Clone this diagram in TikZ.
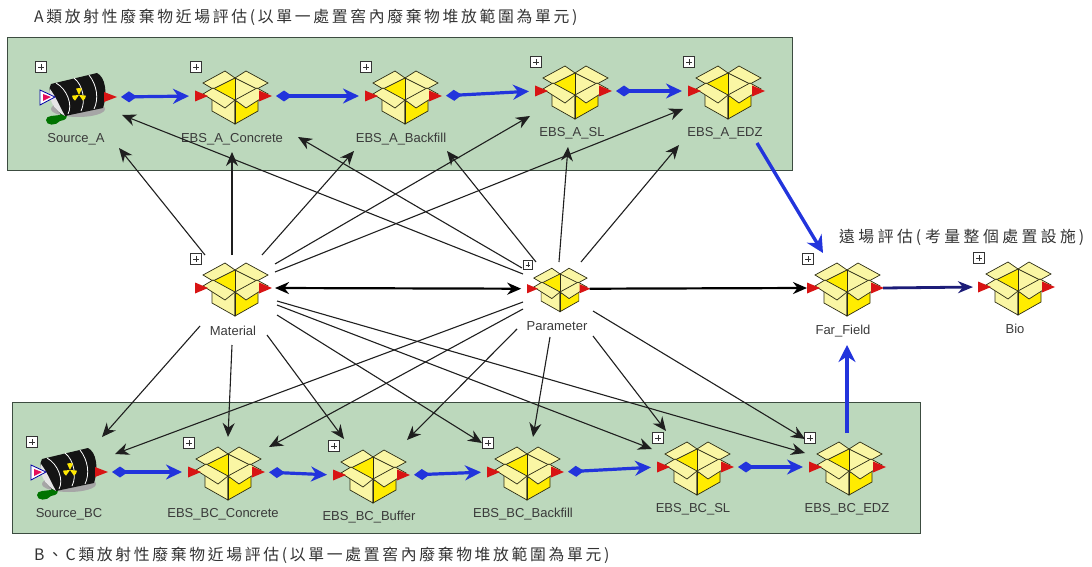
\documentclass[tikz,border=0pt]{standalone}
\usepackage{fontspec}
\usetikzlibrary{arrows.meta}
\setmainfont{Liberation Sans}
\newfontfamily\cjkfont[LetterSpace=17]{Noto Sans CJK TC}
\newfontfamily\cjkwidefont[LetterSpace=22]{Noto Sans CJK TC}
\definecolor{panelgreen}{HTML}{BCD8BC}
\definecolor{paneledge}{HTML}{3C4C40}
\definecolor{cartonpale}{HTML}{FAF6A4}
\definecolor{cartonyellow}{HTML}{FFEC00}
\definecolor{cartonline}{HTML}{2C2C14}
\definecolor{portred}{HTML}{D81414}
\definecolor{flowblue}{HTML}{2234DC}
\definecolor{navyflow}{HTML}{1C1C78}
\definecolor{labelgrey}{HTML}{3A3A3A}
\tikzset{
  panel/.style={draw=paneledge,line width=1pt,fill=panelgreen},
  namelabel/.style={font=\fontsize{13}{15}\selectfont,text=labelgrey,inner sep=0pt,anchor=center},
  headline/.style={font=\cjkfont\fontsize{15.8}{18}\selectfont,text=black!80,inner sep=0pt,anchor=west},
  wideheadline/.style={headline,font=\cjkwidefont\fontsize{15.8}{18}\selectfont},
  link/.style={draw=black!88,line width=1.1pt,-{Stealth[length=14pt,width=12pt]}},
  flow/.style={draw=flowblue,line width=3.2pt,{Diamond[length=16pt,width=11pt]}-{Stealth[length=16pt,width=15pt]},shorten <=5pt,shorten >=6pt},
  bluelink/.style={draw=flowblue,line width=3.4pt,-{Stealth[length=17pt,width=17pt]}},
  boldlink/.style={draw=black,line width=2.2pt,-{Stealth[length=14pt,width=12pt]}},
  expander/.style={draw=black!80,fill=white,line width=.7pt},
  cartonicon/.pic={
    % carton body, left and right walls
    \filldraw[cartonline,fill=cartonpale,line width=.7pt] (0,0) -- (-23,-3) -- (-23,11) -- (0,24) -- cycle;
    \filldraw[cartonline,fill=cartonyellow,line width=.7pt] (0,2) -- (23,-3) -- (23,11) -- (0,24) -- cycle;
    % opening of the carton
    \fill[cartonyellow] (-22,-11) -- (0,-22) -- (0,0) -- cycle;
    \fill[cartonpale] (22,-11) -- (0,-22) -- (0,0) -- cycle;
    % rear flaps
    \filldraw[cartonline,fill=cartonpale,line width=.7pt] (-10,-29) -- (-32,-17) -- (-22,-11) -- (0,-22) -- cycle;
    \filldraw[cartonline,fill=cartonpale,line width=.7pt] (11,-29) -- (33,-17) -- (22,-11) -- (0,-22) -- cycle;
    \draw[cartonline,line width=.7pt] (0,-22) -- (0,24);
    % front flaps
    \filldraw[cartonline,fill=cartonpale,line width=.7pt] (0,0) -- (-22,-12) -- (-32,-6) -- (-10,8) -- cycle;
    \filldraw[cartonline,fill=cartonpale,line width=.7pt] (0,0) -- (22,-12) -- (33,-6) -- (11,8) -- cycle;
    % input and output ports
    \fill[portred] (-40,-9.5) -- (-27,-4) -- (-40,1.5) -- cycle;
    \fill[portred] (24,-9.5) -- (37,-4) -- (24,1.5) -- cycle;
    % expander mark
    \filldraw[expander] (-44.5,-38.5) rectangle (-33.5,-27.5);
    \draw[black!80,line width=.6pt] (-42,-33) -- (-36,-33) (-39,-36) -- (-39,-30);
    \coordinate (-in) at (-40,-4);
    \coordinate (-out) at (36,-4);
  },
  barrelicon/.pic={
    % ground shadow and spilled liquid
    \fill[black!35] (-2,12) ellipse [x radius=27,y radius=8];
    \fill[green!45!black] (-34,23) .. controls (-34,18) and (-25,19) .. (-20,18) .. controls (-18,12) and (-14,12) .. (-13,18)
      .. controls (-13,24) and (-18,23) .. (-20,24) .. controls (-24,29) and (-34,29) .. cycle;
    % barrel shell
    \fill[black!92] (-29,-13) -- (17,-24) .. controls (25,-20) and (28,-5) .. (23,11) -- (-15,19)
      .. controls (-26,16) and (-34,-5) .. cycle;
    \fill[black!10] (-30,-8) .. controls (-33,0) and (-26,14) .. (-15,19) .. controls (-20,10) and (-24,0) .. cycle;
    \draw[white,line width=.8pt] (-24,-14) .. controls (-13,-8) and (-7,8) .. (-12,17);
    \draw[white,line width=.8pt] (-6,-19) .. controls (3,-12) and (6,4) .. (1,14);
    \draw[white,line width=.8pt] (9,-22) .. controls (17,-12) and (19,2) .. (14,12);
    % radiation mark
    \foreach \a in {30,150,270}{
      \fill[yellow!90!orange] (-1,-2) -- ++(\a-25:7) arc[start angle=\a-25,end angle=\a+25,radius=7] -- cycle;
    }
    % ports
    \fill[white] (-40,-7) -- (-25,0) -- (-40,8) -- cycle;
    \draw[blue!65!black,line width=.8pt] (-40,-7) -- (-25,0) -- (-40,8) -- cycle;
    \fill[portred!70!magenta] (-37,-3) -- (-29,0) -- (-37,4) -- cycle;
    \fill[portred] (24,-5) -- (37,0) -- (24,5) -- cycle;
    % expander mark
    \filldraw[expander] (-44.5,-35.5) rectangle (-33.5,-24.5);
    \draw[black!80,line width=.6pt] (-42,-30) -- (-36,-30) (-39,-33) -- (-39,-27);
    \coordinate (-out) at (36,0);
  }
}
\begin{document}
\begin{tikzpicture}[x=1pt,y=-1pt]
\useasboundingbox (0,0) rectangle (1092,567);

% grouping panels and headings
\path[panel] (7,38) rectangle (792,170);
\path[panel] (12,402) rectangle (920,533);
\node[headline] (headA) at (34,17) {A類放射性廢棄物近場評估(以單一處置窖內廢棄物堆放範圍為單元)};
\node[headline] (headBC) at (34,555) {B、C類放射性廢棄物近場評估(以單一處置窖內廢棄物堆放範圍為單元)};
\node[wideheadline] (headFar) at (839,237) {遠場評估\kern3pt(\kern4pt考量整個處置設施\kern3pt)};

% near field, class A
\pic (Source_A) at (80,97) {barrelicon};
\pic (EBS_A_Concrete) at (235,100) {cartonicon};
\pic (EBS_A_Backfill) at (405,100) {cartonicon};
\pic (EBS_A_SL) at (575,95) {cartonicon};
\pic (EBS_A_EDZ) at (728,95) {cartonicon};
\node[namelabel] (lblSourceA) at (76,139) {Source\_A};
\node[namelabel] (lblAConcrete) at (232,139) {EBS\_A\_Concrete};
\node[namelabel] (lblABackfill) at (401,139) {EBS\_A\_Backfill};
\node[namelabel] (lblASL) at (572,133) {EBS\_A\_SL};
\node[namelabel] (lblAEDZ) at (725,133) {EBS\_A\_EDZ};

% shared inputs, far field and biosphere
\pic (Material) at (235,292) {cartonicon};
\pic[scale=.82] (Parameter) at (560,292) {cartonicon};
\pic (Far_Field) at (847,292) {cartonicon};
\pic (Bio) at (1018,291) {cartonicon};
\node[namelabel] (lblMaterial) at (233,331) {Material};
\node[namelabel] (lblParameter) at (557,326) {Parameter};
\node[namelabel] (lblFar) at (843,331) {Far\_Field};
\node[namelabel] (lblBio) at (1015,329) {Bio};

% near field, classes B and C
\pic (Source_BC) at (71,472) {barrelicon};
\pic (EBS_BC_Concrete) at (228,476) {cartonicon};
\pic (EBS_BC_Buffer) at (373,479) {cartonicon};
\pic (EBS_BC_Backfill) at (527,476) {cartonicon};
\pic (EBS_BC_SL) at (697,471) {cartonicon};
\pic (EBS_BC_EDZ) at (849,471) {cartonicon};
\node[namelabel] (lblSourceBC) at (69,514) {Source\_BC};
\node[namelabel] (lblBCConcrete) at (223,514) {EBS\_BC\_Concrete};
\node[namelabel] (lblBCBuffer) at (369,517) {EBS\_BC\_Buffer};
\node[namelabel] (lblBCBackfill) at (523,514) {EBS\_BC\_Backfill};
\node[namelabel] (lblBCSL) at (693,509) {EBS\_BC\_SL};
\node[namelabel] (lblBCEDZ) at (847,509) {EBS\_BC\_EDZ};

% ends of the thin links beside the Material block
\coordinate (mSA) at (205,255);  \coordinate (tSAm) at (119,148);
\coordinate (mAC) at (232,255);  \coordinate (tACm) at (232,152);
\coordinate (mAB) at (262,255);  \coordinate (tABm) at (354,151);
\coordinate (mAS) at (275,264);  \coordinate (tASm) at (530,116);
\coordinate (mAE) at (275,272);  \coordinate (tAEm) at (683,109);
\coordinate (mSB) at (200,326);  \coordinate (tSBm) at (102,437);
\coordinate (mBC) at (232,345);  \coordinate (tBCm) at (228,437);
\coordinate (mBU) at (267,335);  \coordinate (tBUm) at (344,439);
\coordinate (mBB) at (277,315);  \coordinate (tBBm) at (482,443);
\coordinate (mBS) at (277,305);  \coordinate (tBSm) at (652,449);
\coordinate (mBE) at (277,301);  \coordinate (tBEm) at (805,453);
% ends of the thin links beside the Parameter block
\coordinate (pSA) at (523,274);  \coordinate (tSAp) at (122,115);
\coordinate (pAC) at (522,268);  \coordinate (tACp) at (298,137);
\coordinate (pAB) at (536,262);  \coordinate (tABp) at (447,151);
\coordinate (pAS) at (559,262);  \coordinate (tASp) at (568,147);
\coordinate (pAE) at (581,262);  \coordinate (tAEp) at (679,145);
\coordinate (pSB) at (523,302);  \coordinate (tSBp) at (115,454);
\coordinate (pBC) at (523,309);  \coordinate (tBCp) at (269,447);
\coordinate (pBU) at (517,329);  \coordinate (tBUp) at (407,440);
\coordinate (pBB) at (550,337);  \coordinate (tBBp) at (533,437);
\coordinate (pBS) at (593,336);  \coordinate (tBSp) at (666,431);
\coordinate (pBE) at (593,311);  \coordinate (tBEp) at (805,439);

\draw[link] (mSA) -- (tSAm);
\draw[link] (mAC) -- (tACm);
\draw[link] (mAB) -- (tABm);
\draw[link] (mAS) -- (tASm);
\draw[link] (mAE) -- (tAEm);
\draw[link] (mSB) -- (tSBm);
\draw[link] (mBC) -- (tBCm);
\draw[link] (mBU) -- (tBUm);
\draw[link] (mBB) -- (tBBm);
\draw[link] (mBS) -- (tBSm);
\draw[link] (mBE) -- (tBEm);
\draw[link] (pSA) -- (tSAp);
\draw[link] (pAC) -- (tACp);
\draw[link] (pAB) -- (tABp);
\draw[link] (pAS) -- (tASp);
\draw[link] (pAE) -- (tAEp);
\draw[link] (pSB) -- (tSBp);
\draw[link] (pBC) -- (tBCp);
\draw[link] (pBU) -- (tBUp);
\draw[link] (pBB) -- (tBBp);
\draw[link] (pBS) -- (tBSp);
\draw[link] (pBE) -- (tBEp);

% flows along each near-field chain
\draw[flow] (Source_A-out) -- (EBS_A_Concrete-in);
\draw[flow] (EBS_A_Concrete-out) -- (EBS_A_Backfill-in);
\draw[flow] (EBS_A_Backfill-out) -- (EBS_A_SL-in);
\draw[flow] (EBS_A_SL-out) -- (EBS_A_EDZ-in);
\draw[flow] (Source_BC-out) -- (EBS_BC_Concrete-in);
\draw[flow] (EBS_BC_Concrete-out) -- (EBS_BC_Buffer-in);
\draw[flow] (EBS_BC_Buffer-out) -- (EBS_BC_Backfill-in);
\draw[flow] (EBS_BC_Backfill-out) -- (EBS_BC_SL-in);
\draw[flow] (EBS_BC_SL-out) -- (EBS_BC_EDZ-in);

% releases into the far field
\coordinate (edzA) at (757,143);  \coordinate (farTop) at (823,253);
\coordinate (edzBC) at (847,433); \coordinate (farBottom) at (847,345);
\draw[bluelink] (edzA) -- (farTop);
\draw[bluelink] (edzBC) -- (farBottom);

% main horizontal connections
\draw[boldlink,{Stealth[length=14pt,width=12pt]}-{Stealth[length=14pt,width=12pt]},shorten <=4pt,shorten >=6pt] (Material-out) -- (Parameter-in);
\draw[boldlink] (Parameter-out) -- (Far_Field-in);
\draw[draw=navyflow,line width=2.8pt,-{Stealth[length=15pt,width=12pt]},shorten >=5pt] (Far_Field-out) -- (Bio-in);
\end{tikzpicture}
\end{document}
